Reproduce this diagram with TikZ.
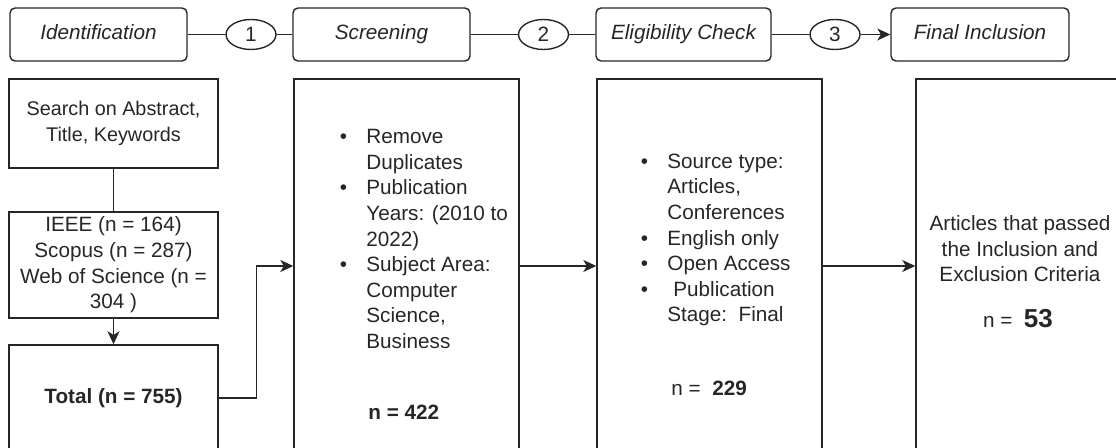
\documentclass[tikz,border=0pt]{standalone}
\usepackage{fontspec}
\setmainfont{Liberation Sans}
\usepackage{xcolor}
\usepackage{tikz}
\usetikzlibrary{arrows.meta,shapes.geometric}
\definecolor{flowink}{RGB}{38,38,38}
\newcommand{\critem}{\llap{\textbullet\hspace{9.7pt}}}

\begin{document}
\begin{tikzpicture}[x=0.5pt,y=-0.5pt,
        every node/.style={font=\fontsize{10.35}{12.8}\selectfont, text=flowink},
        stage/.style={draw=flowink, line width=0.7pt, rounded corners=2.5pt, minimum width=88.5pt, minimum height=26.5pt, inner sep=0pt, text height=7.6pt, text depth=2.2pt, font=\fontsize{10.35}{12.8}\selectfont\itshape},
        num/.style={draw=flowink, line width=0.7pt, ellipse, minimum width=25pt, minimum height=15pt, inner sep=0pt},
        box/.style={draw=flowink, line width=0.7pt, inner sep=0pt, align=center},
        link/.style={draw=flowink, line width=0.7pt},
        flow/.style={link, -{Stealth[length=6.5pt,width=6pt,inset=1.8pt]}}]
        \useasboundingbox (0,0) rectangle (1116,448);

        % Stage headers
        \node[stage] (ident) at (98.5,34.5) {Identification};
        \node[num] (c1) at (251,34.5) {1};
        \node[stage] (screen) at (381.5,34.5) {Screening};
        \node[num] (c2) at (543.5,34.5) {2};
        \node[stage, minimum width=87.5pt] (elig) at (683.5,34.5) {Eligibility Check};
        \node[num] (c3) at (835,34.5) {3};
        \node[stage, minimum width=89pt] (final) at (980,34.5) {Final Inclusion};

        \draw[link] (ident) -- (c1) -- (screen);
        \draw[link] (screen) -- (c2) -- (elig);
        \draw[link] (elig) -- (c3);
        \draw[flow] (c3) -- (final);

        % Identification column
        \node[box, minimum width=104.5pt, minimum height=44.5pt, font=\fontsize{9.9}{12.8}\selectfont] (search) at (113.5,123.5) {Search on Abstract,\\Title, Keywords};
        \node[box, minimum width=104.5pt, minimum height=53pt] (sources) at (113.5,265) {IEEE (n = 164)\\Scopus (n = 287)\\Web of Science (n =\\304 )};
        \node[box, minimum width=104.5pt, minimum height=53pt, font=\fontsize{10.35}{12.8}\selectfont\bfseries] (total) at (113.5,398) {Total (n = 755)};

        \draw[link] (search) -- (sources);
        \draw[flow] (sources) -- (total);

        % Screening, eligibility and inclusion boxes
        \node[box, minimum width=112.5pt, minimum height=187pt] (screenbox) at (406.5,266) {};
        \node[box, minimum width=112.5pt, minimum height=187pt] (eligbox) at (709.5,266) {};
        \node[box, minimum width=104pt, minimum height=187pt] (finalbox) at (1020,266) {};

        \node[anchor=west, align=left, inner sep=0pt] (screenlist) at (366,239)
            {\critem Remove\\Duplicates\\\critem Publication\\Years: (2010 to\\2022)\\\critem Subject Area:\\Computer\\Science,\\Business};
        \node[anchor=west, inner sep=0pt] (screenn) at (368,412) {\textbf{n = 422}};

        \node[anchor=west, align=left, inner sep=0pt] (eliglist) at (667,240)
            {\critem Source type:\\Articles,\\Conferences\\\critem English only\\\critem Open Access\\\critem\hspace{3pt}Publication\\Stage:\ \ Final};
        \node[anchor=west, inner sep=0pt] (elign) at (671,388) {n =\ \ \textbf{229}};

        \node[align=center, inner sep=0pt] (finaltext) at (1020,249) {Articles that passed\\the Inclusion and\\Exclusion Criteria};
        \node[inner sep=0pt] (finaln) at (1018,319) {n =\ \ {\fontsize{13}{14}\selectfont\bfseries 53}};

        \draw[flow] (total.east) -- ++(38,0) |- (screenbox.west);
        \draw[flow] (screenbox) -- (eligbox);
        \draw[flow] (eligbox) -- (finalbox);
    \end{tikzpicture}
\end{document}
